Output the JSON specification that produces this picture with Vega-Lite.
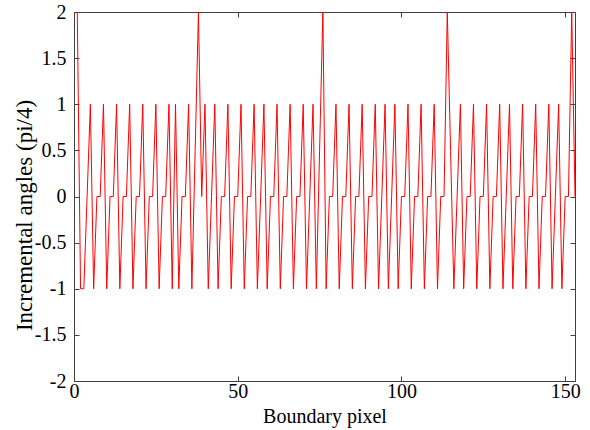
{
  "$schema": "https://vega.github.io/schema/vega-lite/v6.json",
  "width": 501,
  "height": 369,
  "autosize": {"type": "none"},
  "padding": {"left": 74, "top": 12, "right": 15, "bottom": 49},
  "background": "white",
  "config": {
    "view": {"stroke": null},
    "font": "Liberation Serif",
    "axis": {
      "grid": false,
      "domainColor": "#404040",
      "tickColor": "#404040",
      "labelColor": "black",
      "titleColor": "black",
      "labelFont": "Liberation Serif",
      "titleFont": "Liberation Serif",
      "titleFontWeight": "normal",
      "tickSize": -5
    }
  },
  "data": {
    "values": [
      {"x":1,"y":2},{"x":2,"y":-1},{"x":3,"y":-1},{"x":4,"y":0},{"x":5,"y":1},
      {"x":6,"y":-1},{"x":7,"y":0},{"x":8,"y":0},{"x":9,"y":1},{"x":10,"y":-1},
      {"x":11,"y":0},{"x":12,"y":0},{"x":13,"y":1},{"x":14,"y":-1},{"x":15,"y":0},
      {"x":16,"y":0},{"x":17,"y":1},{"x":18,"y":-1},{"x":19,"y":0},{"x":20,"y":0},
      {"x":21,"y":1},{"x":22,"y":-1},{"x":23,"y":0},{"x":24,"y":0},{"x":25,"y":1},
      {"x":26,"y":-1},{"x":27,"y":0},{"x":28,"y":0},{"x":29,"y":1},{"x":30,"y":-1},
      {"x":31,"y":1},{"x":32,"y":-1},{"x":33,"y":0},{"x":34,"y":0},{"x":35,"y":1},
      {"x":36,"y":-1},{"x":37,"y":0.5},{"x":38,"y":2},{"x":39,"y":0},{"x":40,"y":1},
      {"x":41,"y":-1},{"x":42,"y":0},{"x":43,"y":1},{"x":44,"y":-1},{"x":45,"y":0},
      {"x":46,"y":0},{"x":47,"y":1},{"x":48,"y":-1},{"x":49,"y":0},{"x":50,"y":0},
      {"x":51,"y":1},{"x":52,"y":-1},{"x":53,"y":0},{"x":54,"y":0},{"x":55,"y":1},
      {"x":56,"y":-1},{"x":57,"y":0},{"x":58,"y":1},{"x":59,"y":-1},{"x":60,"y":0},
      {"x":61,"y":0},{"x":62,"y":1},{"x":63,"y":-1},{"x":64,"y":0},{"x":65,"y":0},
      {"x":66,"y":1},{"x":67,"y":-1},{"x":68,"y":0},{"x":69,"y":0},{"x":70,"y":1},
      {"x":71,"y":-1},{"x":72,"y":0},{"x":73,"y":1},{"x":74,"y":-1},{"x":75,"y":0.5},
      {"x":76,"y":2},{"x":77,"y":-1},{"x":78,"y":0},{"x":79,"y":0},{"x":80,"y":1},
      {"x":81,"y":-1},{"x":82,"y":0},{"x":83,"y":0},{"x":84,"y":1},{"x":85,"y":-1},
      {"x":86,"y":0},{"x":87,"y":0},{"x":88,"y":1},{"x":89,"y":-1},{"x":90,"y":0},
      {"x":91,"y":0},{"x":92,"y":1},{"x":93,"y":-1},{"x":94,"y":0},{"x":95,"y":1},
      {"x":96,"y":-1},{"x":97,"y":0},{"x":98,"y":1},{"x":99,"y":-1},{"x":100,"y":0},
      {"x":101,"y":0},{"x":102,"y":1},{"x":103,"y":-1},{"x":104,"y":0},{"x":105,"y":0},
      {"x":106,"y":1},{"x":107,"y":-1},{"x":108,"y":0},{"x":109,"y":0},{"x":110,"y":1},
      {"x":111,"y":-1},{"x":112,"y":0},{"x":113,"y":0},{"x":114,"y":2},{"x":115,"y":0.5},
      {"x":116,"y":-1},{"x":117,"y":0},{"x":118,"y":1},{"x":119,"y":-1},{"x":120,"y":0},
      {"x":121,"y":0},{"x":122,"y":1},{"x":123,"y":-1},{"x":124,"y":0},{"x":125,"y":0},
      {"x":126,"y":1},{"x":127,"y":-1},{"x":128,"y":0},{"x":129,"y":0},{"x":130,"y":1},
      {"x":131,"y":-1},{"x":132,"y":0},{"x":133,"y":1},{"x":134,"y":-1},{"x":135,"y":0},
      {"x":136,"y":0},{"x":137,"y":1},{"x":138,"y":-1},{"x":139,"y":0},{"x":140,"y":0},
      {"x":141,"y":1},{"x":142,"y":-1},{"x":143,"y":0},{"x":144,"y":0},{"x":145,"y":1},
      {"x":146,"y":-1},{"x":147,"y":0},{"x":148,"y":1},{"x":149,"y":-1},{"x":150,"y":0},
      {"x":151,"y":0},{"x":152,"y":2},{"x":153,"y":0}
    ]
  },
  "layer": [
    {
      "mark": {"type": "line", "color": "#ff0000", "strokeWidth": 1, "clip": true},
      "encoding": {
        "x": {
          "field": "x", "type": "quantitative",
          "scale": {"domain": [0, 153], "nice": false, "zero": false},
          "axis": {
            "orient": "bottom", "values": [0, 50, 100, 150],
            "labelExpr": "datum.value + ''",
            "title": "Boundary pixel", "titleFontSize": 20,
            "titleY": 41, "titleBaseline": "alphabetic",
            "labelFontSize": 20, "labelPadding": 5, "labelFlush": false
          }
        },
        "y": {
          "field": "y", "type": "quantitative",
          "scale": {"domain": [-2, 2], "nice": false},
          "axis": {
            "orient": "left", "values": [-2, -1.5, -1, -0.5, 0, 0.5, 1, 1.5, 2],
            "labelExpr": "datum.value + ''",
            "title": "Incremental angles (pi/4)", "titleFontSize": 23,
            "titleX": -50, "titleY": 203, "titleBaseline": "middle", "titleAlign": "center",
            "labelFontSize": 20, "labelPadding": 13, "labelFlush": false
          }
        }
      }
    },
    {
      "mark": {"type": "line", "opacity": 0},
      "encoding": {
        "x": {
          "field": "x", "type": "quantitative",
          "axis": {"orient": "top", "values": [0, 50, 100, 150], "labels": false, "title": null}
        },
        "y": {
          "field": "y", "type": "quantitative",
          "axis": {"orient": "right", "values": [-2, -1.5, -1, -0.5, 0, 0.5, 1, 1.5, 2], "labels": false, "title": null}
        }
      }
    }
  ],
  "resolve": {"axis": {"x": "independent", "y": "independent"}}
}
